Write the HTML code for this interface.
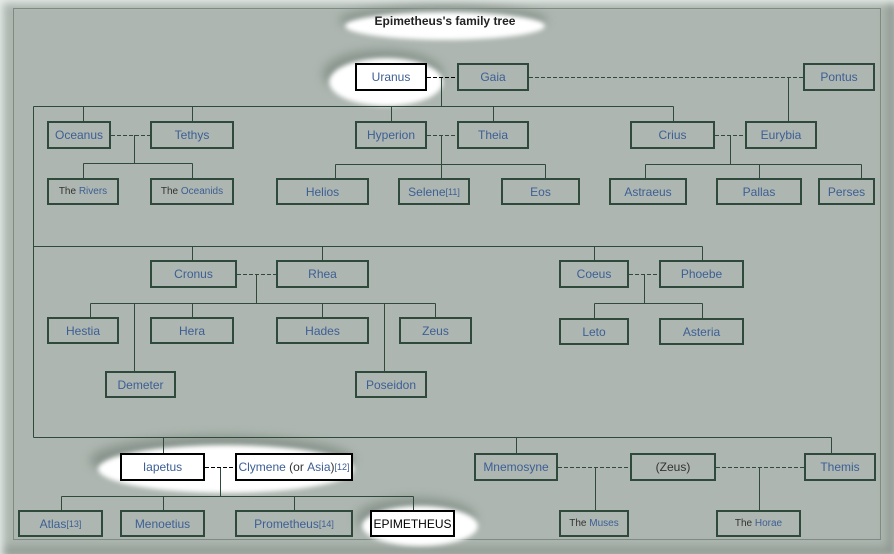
<!DOCTYPE html>
<html><head><meta charset="utf-8"><style>
body{margin:0;width:894px;height:554px;overflow:hidden;background:#c9d1cc;font-family:"Liberation Sans",sans-serif}
#f{position:absolute;left:0;top:0;width:894px;height:554px;background:#adb6b0;box-shadow:inset 3px 3px 8px #e8eeea,inset -6px -6px 10px #8d968f}
.b{position:absolute;box-sizing:border-box;border:2px solid #2f4a3c;display:flex;align-items:center;justify-content:center;font-size:12px;color:#3d5f95;white-space:nowrap}
.w{background:#fff;border-color:#000}
.s{font-size:10px}
.k{color:#333}
sup{font-size:9px;vertical-align:6px;line-height:0}
svg{position:absolute;left:0;top:0}
</style></head><body><div id="f">
<svg width="894" height="554">
<defs><filter id="bl" x="-50%" y="-50%" width="200%" height="200%"><feGaussianBlur stdDeviation="2.5"/></filter>
<filter id="sh" x="-50%" y="-50%" width="200%" height="200%"><feGaussianBlur stdDeviation="5"/></filter></defs>
<rect x="13.5" y="8.5" width="867" height="531" fill="none" stroke="#7f8a83"/>
<g fill="#7d8a82" filter="url(#sh)" opacity="0.8">
<ellipse cx="443" cy="20" rx="104" ry="14"/>
<ellipse cx="383" cy="74" rx="60" ry="24"/>
<ellipse cx="222" cy="460" rx="132" ry="24"/>
<ellipse cx="416" cy="518" rx="60" ry="20"/>
</g>
<g fill="#fff" filter="url(#bl)">
<ellipse cx="445" cy="26" rx="100" ry="14"/>
<ellipse cx="386" cy="82" rx="57" ry="24"/>
<ellipse cx="226" cy="469" rx="128" ry="24"/>
<ellipse cx="420" cy="526" rx="58" ry="20"/>
</g>
<g stroke="#2f4a3c" stroke-width="1" fill="none">
<path d="M33.5 106.5H673.5M33.5 106.5V437.5M83.5 106.5V121M192.5 106.5V121M391.5 106.5V121M493.5 106.5V121M673.5 106.5V121M441.5 77V106.5M788.5 77V121"/>
<path d="M134.5 135V163.5M83.5 163.5H192.5M83.5 163.5V178M192.5 163.5V178"/>
<path d="M441.5 135V178M335.5 164.5H545.5M335.5 164.5V178M545.5 164.5V178"/>
<path d="M730.5 135V164.5M645.5 164.5H861.5M645.5 164.5V178M759.5 164.5V178M861.5 164.5V178"/>
<path d="M33.5 246.5H702.5M192.5 246.5V260M322.5 246.5V260M594.5 246.5V260M702.5 246.5V260"/>
<path d="M256.5 274V303.5M90.5 303.5H435.5M90.5 303.5V317M192.5 303.5V317M322.5 303.5V317M435.5 303.5V317M134.5 303.5V371M384.5 303.5V371"/>
<path d="M644.5 274V303.5M594.5 303.5H702.5M594.5 303.5V318M702.5 303.5V318"/>
<path d="M33.5 437.5H831.5M163.5 437.5V453M516.5 437.5V453M831.5 437.5V453"/>
<path d="M220.5 467V496.5M61.5 496.5H413.5M61.5 496.5V510M163.5 496.5V510M294.5 496.5V510M413.5 496.5V510"/>
<path d="M595.5 467V510M759.5 467V510"/>
</g>
<g stroke="#2f4a3c" stroke-dasharray="4,2">
<path d="M427 77.5H457M529 77.5H803M111 135.5H150M427 135.5H457M715 135.5H745M237 274.5H276M629 274.5H659M205 467.5H235M558 467.5H630M716 467.5H804"/>
</g>
<path d="M427 77.5H457M205 467.5H235" stroke="#000" stroke-dasharray="4,2"/>
</svg>
<div style="position:absolute;left:345px;top:14px;width:200px;text-align:center;font-size:12px;font-weight:bold;color:#222">Epimetheus's family tree</div>
<div class="b w" style="left:355px;top:63px;width:72px;height:28px">Uranus</div>
<div class="b" style="left:457px;top:63px;width:72px;height:28px">Gaia</div>
<div class="b" style="left:803px;top:63px;width:72px;height:28px">Pontus</div>
<div class="b" style="left:47px;top:121px;width:64px;height:28px">Oceanus</div>
<div class="b" style="left:150px;top:121px;width:84px;height:28px">Tethys</div>
<div class="b" style="left:355px;top:121px;width:72px;height:28px">Hyperion</div>
<div class="b" style="left:457px;top:121px;width:72px;height:28px">Theia</div>
<div class="b" style="left:630px;top:121px;width:85px;height:28px">Crius</div>
<div class="b" style="left:745px;top:121px;width:72px;height:28px">Eurybia</div>
<div class="b s" style="left:47px;top:178px;width:72px;height:27px"><span class="k">The&nbsp;</span>Rivers</div>
<div class="b s" style="left:150px;top:178px;width:84px;height:27px"><span class="k">The&nbsp;</span>Oceanids</div>
<div class="b" style="left:276px;top:178px;width:93px;height:27px">Helios</div>
<div class="b" style="left:398px;top:178px;width:72px;height:27px">Selene<sup>[11]</sup></div>
<div class="b" style="left:501px;top:178px;width:79px;height:27px">Eos</div>
<div class="b" style="left:609px;top:178px;width:78px;height:27px">Astraeus</div>
<div class="b" style="left:716px;top:178px;width:86px;height:27px">Pallas</div>
<div class="b" style="left:818px;top:178px;width:57px;height:27px">Perses</div>
<div class="b" style="left:150px;top:260px;width:87px;height:28px">Cronus</div>
<div class="b" style="left:276px;top:260px;width:93px;height:28px">Rhea</div>
<div class="b" style="left:559px;top:260px;width:70px;height:28px">Coeus</div>
<div class="b" style="left:659px;top:260px;width:85px;height:28px">Phoebe</div>
<div class="b" style="left:47px;top:317px;width:72px;height:27px">Hestia</div>
<div class="b" style="left:150px;top:317px;width:84px;height:27px">Hera</div>
<div class="b" style="left:276px;top:317px;width:93px;height:27px">Hades</div>
<div class="b" style="left:399px;top:317px;width:73px;height:27px">Zeus</div>
<div class="b" style="left:559px;top:318px;width:70px;height:27px">Leto</div>
<div class="b" style="left:659px;top:318px;width:85px;height:27px">Asteria</div>
<div class="b" style="left:105px;top:371px;width:71px;height:27px">Demeter</div>
<div class="b" style="left:355px;top:371px;width:72px;height:27px">Poseidon</div>
<div class="b w" style="left:120px;top:453px;width:85px;height:28px">Iapetus</div>
<div class="b w" style="left:235px;top:453px;width:118px;height:28px">Clymene<span class="k">&nbsp;(or&nbsp;</span>Asia<span class="k">)</span><sup>[12]</sup></div>
<div class="b" style="left:474px;top:453px;width:84px;height:28px">Mnemosyne</div>
<div class="b k" style="left:630px;top:453px;width:86px;height:28px">(Zeus)</div>
<div class="b" style="left:804px;top:453px;width:72px;height:28px">Themis</div>
<div class="b" style="left:18px;top:510px;width:85px;height:27px">Atlas<sup>[13]</sup></div>
<div class="b" style="left:120px;top:510px;width:85px;height:27px">Menoetius</div>
<div class="b" style="left:235px;top:510px;width:118px;height:27px">Prometheus<sup>[14]</sup></div>
<div class="b w" style="left:370px;top:510px;width:85px;height:27px;color:#000">EPIMETHEUS</div>
<div class="b s" style="left:559px;top:510px;width:70px;height:27px"><span class="k">The&nbsp;</span>Muses</div>
<div class="b s" style="left:716px;top:510px;width:85px;height:27px"><span class="k">The&nbsp;</span>Horae</div>
</div></body></html>
